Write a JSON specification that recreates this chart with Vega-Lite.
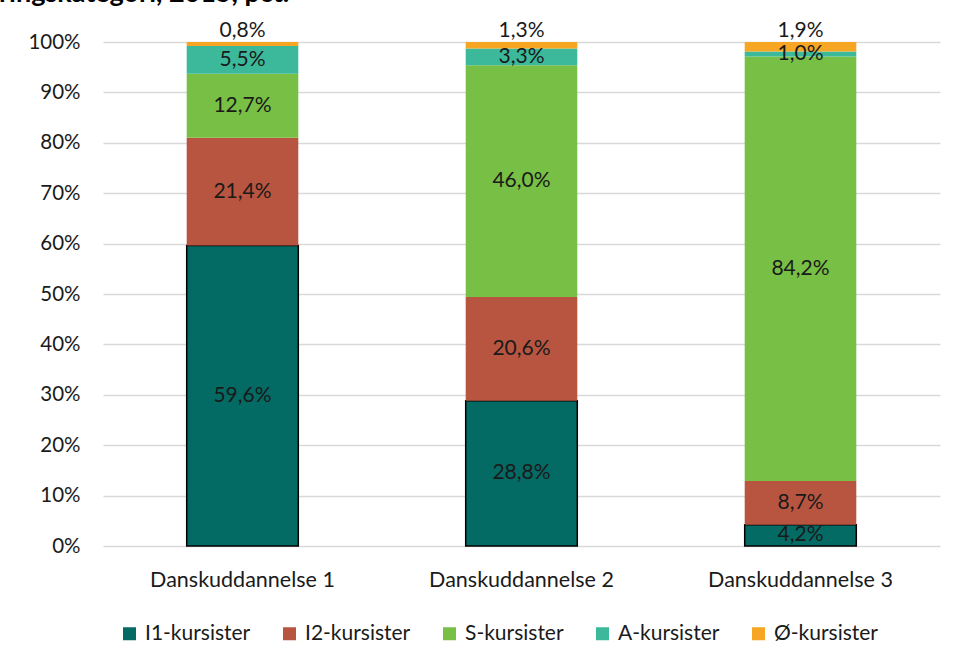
{
  "$schema": "https://vega.github.io/schema/vega-lite/v6.json",
  "width": 837,
  "height": 504,
  "autosize": "none",
  "padding": {"left": 103, "top": 42, "right": 19, "bottom": 115},
  "background": "white",
  "title": {
    "text": "ringskategori, 2015, pct.",
    "anchor": "start",
    "frame": "group",
    "dx": -104,
    "dy": 23,
    "baseline": "bottom",
    "offset": 8,
    "font": "Lato",
    "fontWeight": "bold",
    "fontSize": 27,
    "color": "#000000"
  },
  "data": {
    "values": [
      {"kat": "Danskuddannelse 1", "serie": "I1-kursister", "nr": 1, "andel": 0.596},
      {"kat": "Danskuddannelse 1", "serie": "I2-kursister", "nr": 2, "andel": 0.214},
      {"kat": "Danskuddannelse 1", "serie": "S-kursister", "nr": 3, "andel": 0.127},
      {"kat": "Danskuddannelse 1", "serie": "A-kursister", "nr": 4, "andel": 0.055},
      {"kat": "Danskuddannelse 1", "serie": "Ø-kursister", "nr": 5, "andel": 0.008},
      {"kat": "Danskuddannelse 2", "serie": "I1-kursister", "nr": 1, "andel": 0.288},
      {"kat": "Danskuddannelse 2", "serie": "I2-kursister", "nr": 2, "andel": 0.206},
      {"kat": "Danskuddannelse 2", "serie": "S-kursister", "nr": 3, "andel": 0.46},
      {"kat": "Danskuddannelse 2", "serie": "A-kursister", "nr": 4, "andel": 0.033},
      {"kat": "Danskuddannelse 2", "serie": "Ø-kursister", "nr": 5, "andel": 0.013},
      {"kat": "Danskuddannelse 3", "serie": "I1-kursister", "nr": 1, "andel": 0.042},
      {"kat": "Danskuddannelse 3", "serie": "I2-kursister", "nr": 2, "andel": 0.087},
      {"kat": "Danskuddannelse 3", "serie": "S-kursister", "nr": 3, "andel": 0.842},
      {"kat": "Danskuddannelse 3", "serie": "A-kursister", "nr": 4, "andel": 0.01},
      {"kat": "Danskuddannelse 3", "serie": "Ø-kursister", "nr": 5, "andel": 0.019}
    ]
  },
  "transform": [
    {"stack": "andel", "groupby": ["kat"], "sort": [{"field": "nr", "order": "ascending"}], "as": ["y0", "y1"]},
    {"calculate": "(datum.y0 + datum.y1) / 2", "as": "mid"}
  ],
  "encoding": {
    "x": {
      "field": "kat",
      "type": "nominal",
      "title": null,
      "scale": {"paddingInner": 0.6, "paddingOuter": 0.3},
      "axis": {"labelAngle": 0, "domain": false, "ticks": false, "labelPadding": 23, "labelLimit": 400, "labelFont": "Lato", "labelFontSize": 21.5, "labelColor": "#1a1a1a"}
    }
  },
  "layer": [
    {
      "mark": {"type": "bar"},
      "encoding": {
        "y": {
          "field": "y1",
          "type": "quantitative",
          "title": null,
          "scale": {"domain": [0, 1], "nice": false},
          "axis": {"values": [0, 0.1, 0.2, 0.3, 0.4, 0.5, 0.6, 0.7, 0.8, 0.9, 1], "format": ".0%", "domain": false, "ticks": false, "labelPadding": 23, "labelFont": "Lato", "labelFontSize": 20.5, "labelColor": "#1a1a1a", "gridColor": "#d9d9d9", "gridWidth": 1.3}
        },
        "y2": {"field": "y0"},
        "color": {
          "field": "serie",
          "type": "nominal",
          "scale": {
            "domain": ["I1-kursister", "I2-kursister", "S-kursister", "A-kursister", "Ø-kursister"],
            "range": ["#046a64", "#b85540", "#78bf45", "#3bb99a", "#f7a623"]
          },
          "legend": {
            "title": null,
            "orient": "none",
            "direction": "horizontal",
            "legendX": 16,
            "legendY": 581,
            "symbolType": "square",
            "symbolSize": 169,
            "symbolOpacity": 1,
            "labelFont": "Lato",
            "labelFontSize": 21,
            "labelColor": "#1a1a1a",
            "labelOffset": 5,
            "columnPadding": 28,
            "encode": {
              "symbols": {
                "update": {
                  "stroke": {"signal": "datum.value === 'I1-kursister' ? '#000000' : null"},
                  "strokeWidth": {"value": 1.5}
                }
              }
            }
          }
        },
        "stroke": {
          "condition": {"test": "datum.serie === 'I1-kursister'", "value": "#000000"},
          "value": null
        },
        "strokeWidth": {"value": 1.5}
      }
    },
    {
      "transform": [{"filter": "datum.nr < 5"}],
      "mark": {"type": "text", "font": "Lato", "fontSize": 21, "color": "#1a1a1a", "baseline": "middle"},
      "encoding": {
        "y": {"field": "mid", "type": "quantitative"},
        "text": {"field": "andel", "type": "quantitative", "format": ".1%"}
      }
    },
    {
      "transform": [{"filter": "datum.nr == 5"}],
      "mark": {"type": "text", "font": "Lato", "fontSize": 21, "color": "#1a1a1a", "baseline": "bottom", "dy": -1},
      "encoding": {
        "y": {"field": "y1", "type": "quantitative"},
        "text": {"field": "andel", "type": "quantitative", "format": ".1%"}
      }
    }
  ],
  "config": {
    "view": {"stroke": null},
    "locale": {"number": {"decimal": ",", "thousands": ".", "grouping": [3], "currency": ["", " kr."]}}
  }
}
